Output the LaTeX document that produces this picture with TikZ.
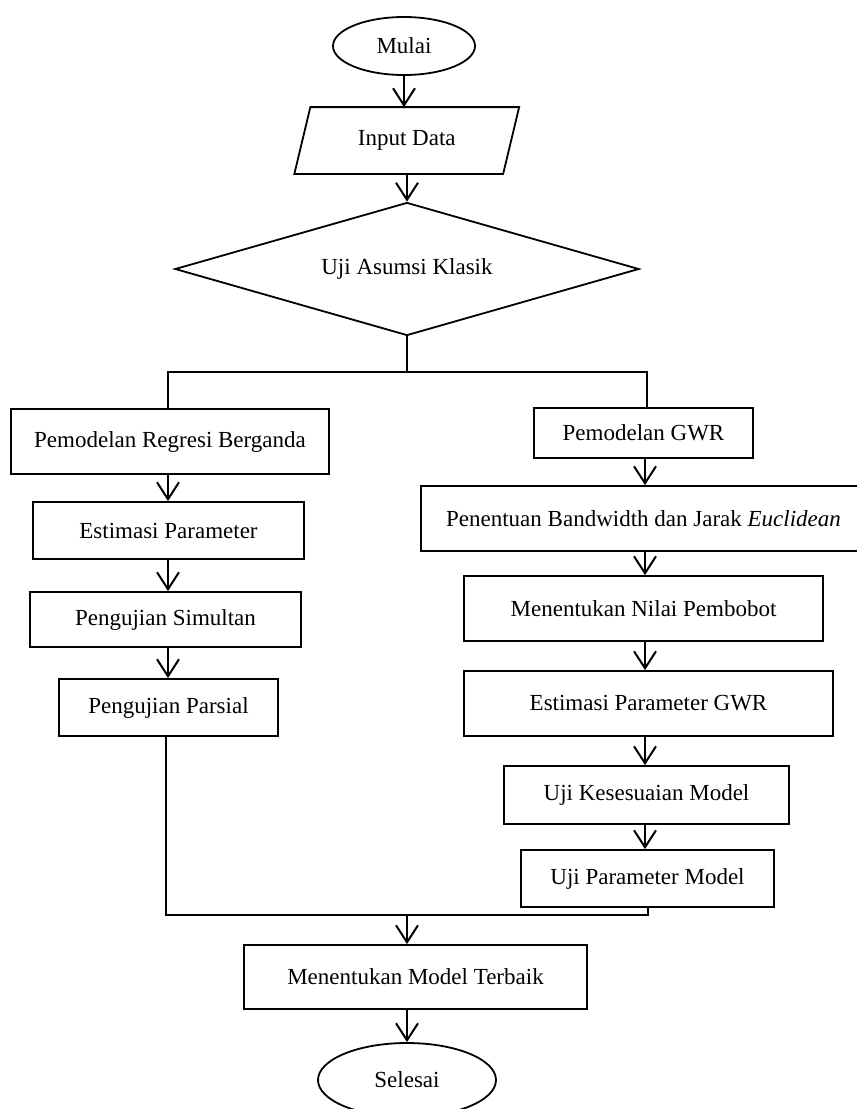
\documentclass[tikz,border=0pt]{standalone}
\usepackage{fontspec}
\setmainfont{Liberation Serif}
\usetikzlibrary{shapes.geometric,arrows.meta}
\begin{document}
\begin{tikzpicture}[x=1pt,y=-1pt,
  every node/.style={font=\fontsize{23}{27}\selectfont, inner sep=0pt, line width=1.8pt},
  proc/.style={draw, rectangle, minimum height=#1},
  proc/.default=57pt,
  term/.style={draw, ellipse},
  arr/.style={line width=1.8pt, -{Straight Barb[length=17pt,width=22pt,line width=2pt]}},
  ln/.style={line width=1.8pt}]
\useasboundingbox (0,0) rectangle (857,1109);

% top
\node[term, minimum width=142pt, minimum height=58pt] (mulai) at (404,46) {Mulai};
\node[minimum width=207pt, minimum height=65pt] (input) at (406.75,140.5) {Input Data};
\draw[ln] ([xshift=8pt]input.north west) -- ([xshift=8pt]input.north east)
  -- ([xshift=-8pt]input.south east) -- ([xshift=-8pt]input.south west) -- cycle;
\node[draw, diamond, aspect=3.49, minimum width=464pt, minimum height=133pt] (uji) at (407,269) {Uji Asumsi Klasik};

\draw[arr] (mulai.south) -- (mulai.south |- input.north);
\draw[arr] (uji.north |- input.south) -- (uji.north);

% left column
\node[proc=65pt, minimum width=318pt] (b1) at (170,441.5) {Pemodelan Regresi Berganda};
\node[proc=57pt, minimum width=271pt] (b2) at (168.5,530.5) {Estimasi Parameter};
\node[proc=55pt, minimum width=271pt] (b3) at (165.5,619.5) {Pengujian Simultan};
\node[proc=57pt, minimum width=219pt] (b4) at (168.5,707.5) {Pengujian Parsial};

% right column
\node[proc=50pt, minimum width=219pt] (g1) at (643.5,433) {Pemodelan GWR};
\node[proc=65pt, minimum width=445pt] (g2) at (643.5,518.5) {Penentuan Bandwidth dan Jarak \textit{Euclidean}};
\node[proc=65pt, minimum width=359pt] (g3) at (643.5,608.5) {Menentukan Nilai Pembobot};
\node[proc=65pt, minimum width=369pt] (g4) at (648.5,703.5) {Estimasi Parameter GWR};
\node[proc=58pt, minimum width=285pt] (g5) at (646.5,795) {Uji Kesesuaian Model};
\node[proc=57pt, minimum width=253pt] (g6) at (647.5,878.5) {Uji Parameter Model};

% bottom
\node[proc=64pt, minimum width=343pt] (best) at (415.5,977) {Menentukan Model Terbaik};
\node[term, minimum width=178pt, minimum height=74pt] (selesai) at (407,1080) {Selesai};

% split
\coordinate (sm) at (407,372);
\coordinate (sl) at (168,372);
\coordinate (sr) at (647,372);
\draw[ln] (uji.south) -- (sm);
\draw[ln] (sl |- b1.north) -- (sl) -- (sr) -- (sr |- g1.north);

% left arrows
\draw[arr] (b1.south -| sl) -- (b2.north -| sl);
\draw[arr] (b2.south -| sl) -- (b3.north -| sl);
\draw[arr] (b3.south -| sl) -- (b4.north -| sl);

% right arrows
\coordinate (rx) at (645,0);
\draw[arr] (g1.south -| rx) -- (g2.north -| rx);
\draw[arr] (g2.south -| rx) -- (g3.north -| rx);
\draw[arr] (g3.south -| rx) -- (g4.north -| rx);
\draw[arr] (g4.south -| rx) -- (g5.north -| rx);
\draw[arr] (g5.south -| rx) -- (g6.north -| rx);

% join
\coordinate (jl) at (166,915);
\coordinate (jr) at (648,915);
\coordinate (jm) at (407,915);
\draw[ln] (b4.south -| jl) -- (jl) -- (jr) -- (jr |- g6.south);
\draw[arr] (jm) -- (jm |- best.north);
\draw[arr] (jm |- best.south) -- (selesai.north);
\end{tikzpicture}
\end{document}
